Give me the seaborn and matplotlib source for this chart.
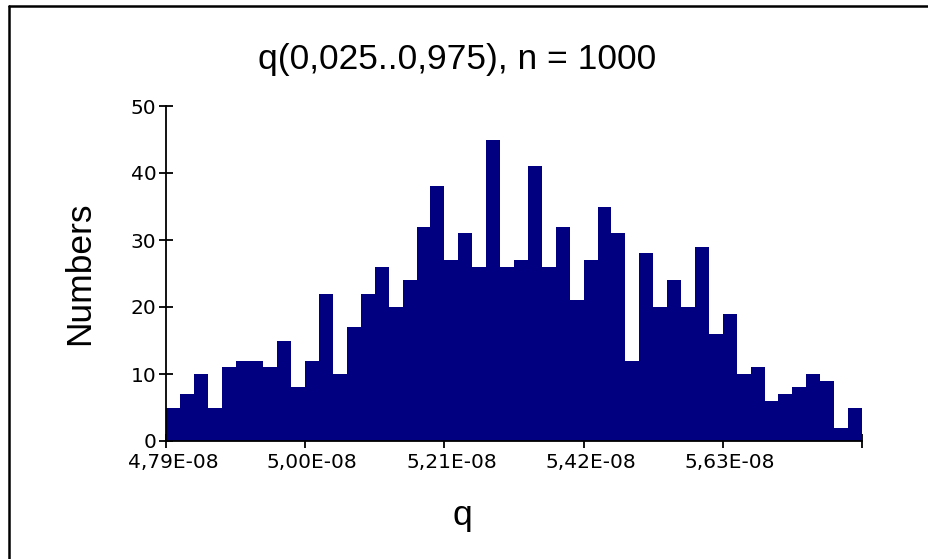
import numpy as np
import pandas as pd
from matplotlib import pyplot as plt
from matplotlib.lines import Line2D
import matplotlib.transforms as mtransforms
import seaborn as sns

# histogram counts (50 bins)
counts = [5, 7, 10, 5, 11, 12, 12, 11, 15, 8,
          12, 22, 10, 17, 22, 26, 20, 24, 32, 38,
          27, 31, 26, 45, 26, 27, 41, 26, 32, 21,
          27, 35, 31, 12, 28, 20, 24, 20, 29, 16,
          19, 10, 11, 6, 7, 8, 10, 9, 2, 5]
q_min = 4.79e-8
q_max = 5.84e-8
n_bins = len(counts)

x_ticks = [4.79e-8, 5.00e-8, 5.21e-8, 5.42e-8, 5.63e-8, 5.84e-8]
x_labels = ['4,79E-08', '5,00E-08', '5,21E-08', '5,42E-08', '5,63E-08', '']
y_ticks = [0, 10, 20, 30, 40, 50]

sns.set_style('ticks')
plt.rcParams['font.family'] = ['DejaVu Sans']
plt.rcParams['text.color'] = 'black'

# bin centres for the weighted histogram
width = (q_max - q_min) / n_bins
df = pd.DataFrame({'q': q_min + width * (np.arange(n_bins) + 0.5), 'n': counts})

fig = plt.figure(figsize=(9.29, 5.59), dpi=100)
ax = fig.add_axes([166 / 929, 1 - 441 / 559, 696 / 929, 335 / 559])

sns.histplot(data=df, x='q', weights='n', bins=n_bins, binrange=(q_min, q_max),
             color='#000080', alpha=1, linewidth=0, ax=ax)

ax.set_xlim(q_min, q_max)
ax.set_ylim(0, 50)
ax.set_xticks(x_ticks)
ax.set_xticklabels(x_labels)
ax.set_yticks(y_ticks)
ax.set_xlabel('')
ax.set_ylabel('')
sns.despine(ax=ax)
for s in ['left', 'bottom']:
    ax.spines[s].set_linewidth(1.3)
    ax.spines[s].set_color('black')
ax.tick_params(axis='both', direction='inout', length=10, width=1.3,
               labelsize=14.5, colors='black')
ax.tick_params(axis='y', pad=2)
ax.tick_params(axis='x', pad=4)

# labels sit a little right of their ticks
shift = mtransforms.ScaledTranslation(7 / 100, 0, fig.dpi_scale_trans)
for lab in ax.get_xticklabels():
    lab.set_transform(lab.get_transform() + shift)

fig.text(457 / 929, 1 - 69 / 559, 'q(0,025..0,975), n = 1000', color='black',
         ha='center', va='baseline', fontsize=25.5, family='Liberation Sans')
fig.text(462 / 929, 1 - 525 / 559, 'q', ha='center', va='baseline', color='black',
         fontsize=25.5, family='Liberation Sans')
fig.text(80 / 929, 1 - 273 / 559, 'Numbers', ha='center', va='center', color='black',
         rotation=90, fontsize=25.5, family='Liberation Sans')

# frame around the picture (cut at the right and bottom)
fig.add_artist(Line2D([8.5 / 929, 8.5 / 929], [0, 1 - 6 / 559], color='black', lw=1.8))
fig.add_artist(Line2D([8.5 / 929, 1], [1 - 6 / 559, 1 - 6 / 559], color='black', lw=1.8))

fig.savefig('out.png', dpi=100)
